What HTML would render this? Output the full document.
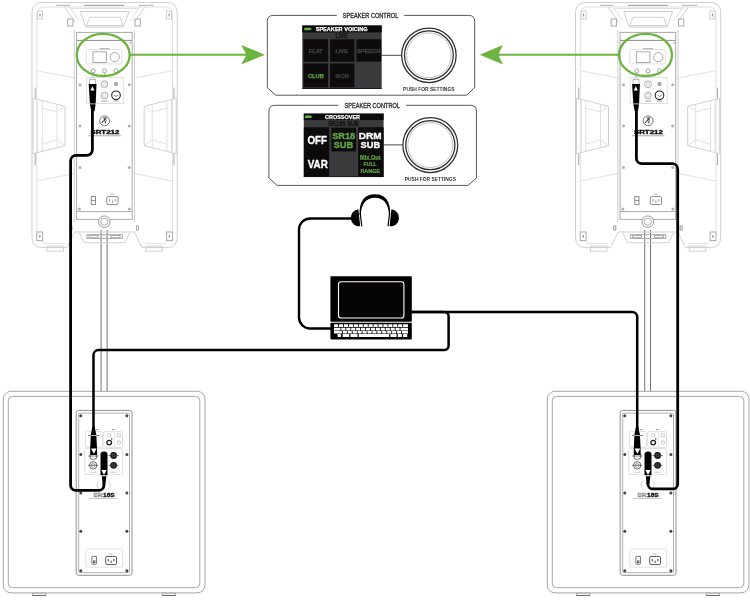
<!DOCTYPE html>
<html>
<head>
<meta charset="utf-8">
<title>Speaker setup diagram</title>
<style>
html,body{margin:0;padding:0;background:#fff;}
body{width:750px;height:600px;overflow:hidden;font-family:"Liberation Sans",sans-serif;}
svg{display:block;will-change:transform;}
text{font-family:"Liberation Sans",sans-serif;}
.o{fill:none;stroke:#e0e0e0;stroke-width:1;}
.o2{fill:none;stroke:#cfcfcf;stroke-width:1;}
.p{fill:none;stroke:#aaaaaa;stroke-width:1;}
.p2{fill:none;stroke:#8c8c8c;stroke-width:1;}
.cab{fill:none;stroke:#000;stroke-width:2.2;stroke-linecap:butt;stroke-linejoin:round;}
.cab3{fill:none;stroke:#000;stroke-width:2.8;stroke-linecap:butt;stroke-linejoin:round;}
.g{fill:none;stroke:#6cb33f;}
</style>
</head>
<body>
<svg width="750" height="600" viewBox="0 0 750 600">
<defs>
<!-- ============ TOP SPEAKER (left-speaker coordinates) ============ -->
<g id="spk">
  <!-- outer cabinet -->
  <path class="o2" d="M42,2.5 H167 Q177.2,2.5 177.2,13 V237 Q177.2,247.6 167,247.6 H142 L134.5,232 H74.5 L67,247.6 H42 Q32,247.6 32,237 V13 Q32,2.5 42,2.5 Z"/>
  <path class="o" d="M44,7 H165 Q172.5,7 172.5,15 V232 M166.5,240.6 L165,243.6 H144.7"/>
  <path class="o" d="M64.5,243.6 H44.2 L42.6,240.6 M36.8,232 V15 Q36.8,7 44,7"/>
  <!-- top handle -->
  <path class="o2" d="M64.3,7 L75,22 M145,7 L134.3,22"/>
  <path class="o" d="M69,6 L79,21 M140.3,6 L130.3,21"/>
  <path class="o2" d="M80.3,11.5 L85.7,27 H123.7 L129,11.5 Z"/>
  <path class="o2" d="M89.7,17.3 H120.3 L123,25.5 H86.3 Z"/>
  <path d="M56.3,5.3 H69.7 M139,5.3 H153.7" stroke="#a8a8a8" stroke-width="0.9" fill="none"/>
  <path d="M84.3,5.3 H124.3" stroke="#8a8a8a" stroke-width="0.9" fill="none"/>
  <path class="o" d="M70,8.5 H139"/>
  <!-- corner blocks top -->
  <rect class="o2" x="37.5" y="11" width="5" height="8"/>
  <rect class="o2" x="166.5" y="11" width="5" height="8"/>
  <rect x="39.4" y="13.5" width="1.2" height="3" fill="#999"/>
  <rect x="168.4" y="13.5" width="1.2" height="3" fill="#999"/>
  <rect class="p" x="67.7" y="19" width="5.3" height="7"/>
  <rect class="p" x="135" y="19" width="5.3" height="7"/>
  <!-- molded side lines -->
  <path class="o" d="M36.8,70.8 L75.5,78 M172.4,70.8 L133.7,78"/>
  <path class="o" d="M36.8,181 L75.5,173.3 M172.4,181 L133.7,173.3"/>
  <!-- side handles -->
  <path class="o2" d="M33,98.3 L65,106.3 V145.7 L33,153.7 Z"/>
  <path class="o" d="M37.7,99.5 V152.5 M42.3,100.6 V151.4 M57,104.3 V147.7"/>
  <path class="o" d="M42.3,108.3 L57,111.7 M57,139.7 L42.3,144.3 M57,111.7 L65,106.3 M57,139.7 L65,145.7"/>
  <path d="M35.2,87.5 V98.5 M35.2,153.7 V165" stroke="#a0a0a0" stroke-width="0.9" fill="none"/>
  <path class="o2" d="M176.2,98.3 L144.2,106.3 V145.7 L176.2,153.7 Z"/>
  <path class="o" d="M171.5,99.5 V152.5 M166.9,100.6 V151.4 M152.2,104.3 V147.7"/>
  <path class="o" d="M166.9,108.3 L152.2,111.7 M152.2,139.7 L166.9,144.3 M152.2,111.7 L144.2,106.3 M152.2,139.7 L144.2,145.7"/>
  <path d="M174.0,87.5 V98.5 M174.0,153.7 V165" stroke="#a0a0a0" stroke-width="0.9" fill="none"/>
  <!-- bottom -->
  <rect class="o2" x="46.9" y="246.2" width="16.5" height="5" fill="#fff"/>
  <rect class="o2" x="145.8" y="246.2" width="16.5" height="5" fill="#fff"/>
  <rect class="p" x="36.8" y="232" width="5.8" height="8.6" stroke="#bdbdbd"/><rect x="39.2" y="235" width="1.3" height="2.8" fill="#999"/>
  <rect class="p" x="166.6" y="232" width="5.8" height="8.6" stroke="#bdbdbd"/><rect x="168.7" y="235" width="1.3" height="2.8" fill="#999"/>
  <path class="o2" d="M79.4,233 L84.2,242.7 H125 L129.8,233"/>
  <rect class="p" x="86.9" y="234.7" width="35.4" height="3.8"/>
  <rect class="p" x="89" y="235.5" width="9" height="2.2"/>
  <rect class="p" x="111" y="235.5" width="9" height="2.2"/>
  <rect x="70" y="226" width="2" height="4" fill="none" stroke="#aaa" stroke-width="0.7"/><rect x="136.4" y="226" width="2" height="4" fill="none" stroke="#aaa" stroke-width="0.7"/>
  <!-- rear panel -->
  <rect class="p" x="76.6" y="32.4" width="55.6" height="187"/>
  <path d="M76.6,40.4 H132.2" stroke="#808080" stroke-width="0.9" fill="none"/><path class="p" d="M76.6,211.6 H132.2"/>
  <path class="o2" d="M74.3,30 V222 M134.5,30 V222"/>
  <!-- control area inside ellipse -->
  <rect class="o" x="86.3" y="49.5" width="35.5" height="14.4" rx="1.5"/>
  <rect class="p" x="92.9" y="51.8" width="13.5" height="10.7" stroke="#b8b8b8"/>
  <circle class="p" cx="114.8" cy="57.2" r="4.6" stroke="#a4a4a4"/>
  <rect x="99.5" y="48.3" width="10" height="0.9" fill="#a0a0a0"/>
  <!-- 3 knobs -->
  <g fill="#fff" stroke="#9a9a9a" stroke-width="0.9">
  <circle cx="93.3" cy="70.8" r="2"/><circle cx="104.5" cy="70.8" r="2"/><circle cx="116" cy="70.8" r="2"/>
  </g>
  <path d="M93.3,72.8 V75 M104.5,72.8 V75 M116,72.8 V74.5" stroke="#b0b0b0" stroke-width="0.8"/>
  <!-- connector box -->
  <rect class="o" x="86.7" y="77.5" width="37" height="26" stroke="#e6e6e6"/>
  <circle class="p" cx="104.5" cy="84.2" r="3.4"/>
  <circle class="p" cx="104.5" cy="95.5" r="3.4"/>
  <circle class="o2" cx="104.5" cy="84.2" r="1.6"/>
  <circle class="o2" cx="104.5" cy="95.5" r="1.6"/>
  <rect x="114.2" y="82.2" width="3.6" height="3.6" fill="#a0a0a0"/>
  <circle cx="116" cy="95.3" r="4.3" fill="none" stroke="#222" stroke-width="1.1"/>
  <path d="M113.8,95 Q116,98 118.2,95" fill="none" stroke="#555" stroke-width="0.7"/>
  <rect x="101.5" y="100.6" width="6" height="0.9" fill="#999"/>
  <rect x="113.5" y="100.6" width="5" height="0.9" fill="#999"/>
  <!-- screws -->
  <g fill="#b0b0b0">
    <circle cx="80" cy="84.7" r="1.5"/><circle cx="129.2" cy="84.7" r="1.5"/>
    <circle cx="80" cy="126" r="1.5"/><circle cx="129.2" cy="126" r="1.5"/>
    <circle cx="80" cy="167.6" r="1.5"/><circle cx="129.2" cy="167.6" r="1.5"/>
    <circle cx="79.4" cy="209" r="1.5"/><circle cx="129.4" cy="209" r="1.5"/>
    <circle cx="130.5" cy="43" r="0.9"/>
  </g>
  <!-- logo -->
  <circle cx="104.6" cy="120.8" r="4.9" fill="#fff" stroke="#555" stroke-width="0.8"/>
  <path d="M103.2,118 l2.2,0.4 l1.4,-0.6 M104.6,118.6 l-0.4,2.2 l1.6,1 l-0.6,1.8 M104.2,120.8 l-1.8,0.6 l-0.4,1.6 M104.6,119.4 l2,0.8 M105,117.2 l0.6,0.8" fill="none" stroke="#222" stroke-width="0.9"/>
  <text x="104.85" y="133.5" font-size="5.4" font-weight="bold" text-anchor="middle" textLength="28.9" lengthAdjust="spacingAndGlyphs" fill="#0a0a0a" stroke="#0a0a0a" stroke-width="0.35">SRT212</text>
  <rect x="88.5" y="135.4" width="32.5" height="0.8" fill="#9a9a9a"/>
  <!-- power -->
  <rect class="p2" x="91.3" y="196.6" width="4.2" height="8"/>
  <path class="p2" d="M91.3,200.6 H95.5"/>
  <rect class="p2" x="106.8" y="196.6" width="11.2" height="8" rx="1"/>
  <path class="p2" d="M109.5,199.2 V201.5 M115.3,199.2 V201.5 M112.4,200.5 V202.8"/>
  <rect x="110" y="193.6" width="4.5" height="0.8" fill="#bbb"/>
  <!-- pole socket -->
  <circle cx="104.3" cy="221.7" r="5.8" fill="#fff" stroke="#999" stroke-width="1"/>
  <circle cx="104.3" cy="221.7" r="3.6" fill="none" stroke="#aaa" stroke-width="1"/>
</g>

<!-- ============ SUBWOOFER (left-sub coordinates) ============ -->
<g id="sub">
  <rect x="3.3" y="391.3" width="201.7" height="201.6" rx="7.8" fill="#fff" stroke="#9c9c9c" stroke-width="0.9"/>
  <rect x="8.3" y="396.4" width="191.5" height="191.3" rx="4" fill="none" stroke="#9c9c9c" stroke-width="0.9"/>
  <rect x="32.6" y="593.2" width="13.3" height="2.2" fill="#fff" stroke="#999" stroke-width="0.8"/><path d="M32.6,595.4 H45.9" stroke="#555" stroke-width="0.8"/>
  <rect x="162.2" y="593.2" width="13.2" height="2.2" fill="#fff" stroke="#999" stroke-width="0.8"/><path d="M162.2,595.4 H175.4" stroke="#555" stroke-width="0.8"/>
  <rect x="70" y="226" width="2" height="4" fill="none" stroke="#aaa" stroke-width="0.7"/><rect x="136.4" y="226" width="2" height="4" fill="none" stroke="#aaa" stroke-width="0.7"/>
  <!-- rear panel -->
  <rect x="76.2" y="410.4" width="55.8" height="164.9" rx="2.4" fill="none" stroke="#909090" stroke-width="1"/>
  <rect x="78.7" y="413.1" width="50.8" height="159.6" rx="1" fill="none" stroke="#a8a8a8" stroke-width="0.9"/>
  <g fill="#444" id="subscrews">
    <circle cx="80.8" cy="415.8" r="1.5"/><circle cx="126.9" cy="415.8" r="1.5"/>
    <circle cx="80.8" cy="454.5" r="1.5"/><circle cx="126.9" cy="454.5" r="1.5"/>
    <circle cx="80.8" cy="493" r="1.5"/><circle cx="126.9" cy="493" r="1.5"/>
    <circle cx="80.8" cy="531.2" r="1.5"/><circle cx="126.9" cy="531.2" r="1.5"/>
    <circle cx="80.8" cy="570.8" r="1.5"/><circle cx="126.9" cy="570.8" r="1.5"/>
  </g>
  <!-- connector boxes -->
  <rect class="o" x="85.4" y="431.6" width="17.2" height="15.8" rx="1"/><rect x="96.3" y="429.3" width="2.2" height="0.8" fill="#666"/><rect x="112.3" y="429.3" width="2.2" height="0.8" fill="#666"/>
  <rect class="o" x="103.8" y="431.6" width="18.7" height="15.8" rx="1"/>
  <path class="o" d="M114.2,431.6 V447.4"/>
  <rect class="o" x="84.8" y="448.4" width="37.8" height="26.2" rx="1"/>
  <!-- small knob -->
  <circle cx="109.2" cy="442.6" r="2.3" fill="#fff" stroke="#1e1e1e" stroke-width="1.3"/>
  <circle cx="111.7" cy="438.9" r="0.7" fill="#222"/>
  <circle class="o2" cx="109" cy="435.2" r="1.6"/>
  <rect class="o2" x="117.4" y="433.6" width="2.8" height="3.2"/>
  <rect class="o2" x="117.4" y="441" width="2.8" height="3.2"/>
  <!-- xlr in (outlined) -->
  <circle cx="93.4" cy="456" r="3.6" fill="#fff" stroke="#555" stroke-width="0.9"/>
  <circle cx="93.2" cy="465.3" r="3.7" fill="#fff" stroke="#555" stroke-width="0.9"/>
  <circle cx="93.2" cy="465.3" r="1.8" fill="none" stroke="#777" stroke-width="0.7"/>
  <path d="M88.4,456 H98.4 M88.2,465.3 H98.2" stroke="#444" stroke-width="0.7"/>
  <!-- xlr out (dark) -->
  <circle cx="113.6" cy="455.5" r="3.4" fill="#1a1a1a"/>
  <circle cx="113.6" cy="465.3" r="3.4" fill="#1a1a1a"/>
  <circle cx="113.6" cy="455.5" r="1.5" fill="none" stroke="#666" stroke-width="0.6"/>
  <circle cx="113.6" cy="465.3" r="1.5" fill="none" stroke="#666" stroke-width="0.6"/>
  <path d="M108.6,455.5 H118.6 M108.6,465.3 H118.6" stroke="#333" stroke-width="0.7"/>
  <rect x="90.5" y="471.8" width="6" height="0.8" fill="#bbb"/>
  <rect x="110.5" y="471.8" width="6" height="0.8" fill="#bbb"/>
  <!-- thermal circle -->
  <path d="M99.5,481 A4.5,4.5 0 0 0 99.5,489 M108,481 A4.5,4.5 0 0 1 108,489" fill="none" stroke="#ccc" stroke-width="0.8"/>
  <!-- logo -->
  <text x="93.6" y="496.8" font-size="5.2" font-weight="bold" textLength="9" lengthAdjust="spacingAndGlyphs" fill="#fff" stroke="#777" stroke-width="0.45">SR</text>
  <text x="103.1" y="496.8" font-size="5.2" font-weight="bold" textLength="11.6" lengthAdjust="spacingAndGlyphs" fill="#111" stroke="#111" stroke-width="0.3">18S</text>
  <rect x="88.7" y="498.2" width="29" height="0.7" fill="#b0b0b0"/>
  <!-- power -->
  <rect class="o" x="85.8" y="549" width="36.8" height="18.2" rx="1.5" stroke="#e2e2e2"/>
  <rect x="91.8" y="556.4" width="4.8" height="7.8" rx="0.6" fill="none" stroke="#666" stroke-width="0.9"/>
  <rect x="93" y="560.4" width="2.4" height="2.8" fill="#666"/>
  <rect x="105.7" y="556.4" width="10.8" height="8.2" rx="1.2" fill="none" stroke="#555" stroke-width="1"/>
  <path d="M108.3,559 V561.4 M113.9,559 V561.4 M111.1,560.6 V563" stroke="#444" stroke-width="1" fill="none"/>
  <rect x="108" y="553.6" width="4.5" height="0.7" fill="#bbb"/>
</g>
</defs>

<!-- poles -->
<path d="M101.1,230 V392 M107.1,230 V392" stroke="#505050" stroke-width="0.8" fill="none"/>
<path d="M644.7,230 V392 M650.5,230 V392" stroke="#505050" stroke-width="0.8" fill="none"/>

<use href="#spk" x="0" y="0"/>
<use href="#spk" x="543.5" y="0"/>
<use href="#sub" x="0" y="0"/>
<use href="#sub" x="544" y="0"/>

<!-- ============ GREEN CALLOUTS ============ -->
<ellipse class="g" cx="103.2" cy="54.9" rx="26.5" ry="21.1" stroke-width="2.3"/>
<path class="g" d="M129.6,54.8 H247" stroke-width="1.9"/>
<path d="M265,54.8 L241.2,45 L246.4,54.8 L241.2,64.6 Z" fill="#6cb33f"/>
<ellipse class="g" cx="645.5" cy="54.9" rx="26.5" ry="21.1" stroke-width="2.3"/>
<path class="g" d="M619,54.8 H498" stroke-width="1.9"/>
<path d="M479.8,54.8 L503,45 L498.2,54.8 L503,64.6 Z" fill="#6cb33f"/>

<!-- ============ CONTROL PANEL 1 ============ -->
<g>
  <path d="M336.8,15.4 H273.3 Q267.3,15.4 267.3,21.3 V87.5 L275.6,95.2 H466.6 L474.7,87.5 V21.3 Q474.7,15.4 468.7,15.4 H404.2" fill="none" stroke="#454545" stroke-width="0.9"/>
  <text x="370.6" y="17.8" font-size="6.3" text-anchor="middle" textLength="55.5" lengthAdjust="spacingAndGlyphs" fill="#2c2c2c" stroke="#2c2c2c" stroke-width="0.3">SPEAKER CONTROL</text>
  <!-- screen -->
  <rect x="302.3" y="25.5" width="79.4" height="63.4" fill="#3b3b3d"/>
  <rect x="302.3" y="25.5" width="79.4" height="6.9" fill="#0b0b0b"/>
  <rect x="302.3" y="88" width="79.4" height="1" fill="#1c1c1c"/>
  <rect x="303.5" y="39.3" width="24.6" height="22.4" fill="#0d0b0b"/>
  <rect x="330.1" y="39.3" width="24.3" height="22.4" fill="#0d0b0b"/>
  <rect x="356.4" y="39.3" width="24.8" height="22.4" fill="#0d0b0b"/>
  <rect x="303.5" y="63.5" width="24.6" height="23.8" fill="#0d0b0b"/>
  <rect x="330.1" y="63.5" width="24.3" height="23.8" fill="#0d0b0b"/>
  <rect x="304.2" y="27.8" width="6.6" height="2.4" rx="0.6" fill="#62b54a"/>
  <rect x="310.8" y="28.4" width="0.8" height="1.2" fill="#62b54a"/>
  <text x="341.7" y="31.1" font-size="6" font-weight="bold" text-anchor="middle" textLength="52" lengthAdjust="spacingAndGlyphs" fill="#fff" stroke="#fff" stroke-width="0.25">SPEAKER VOICING</text>
  <text x="341.7" y="37.6" font-size="6.5" font-weight="bold" text-anchor="middle" textLength="12.2" lengthAdjust="spacingAndGlyphs" fill="#151515" stroke="#151515" stroke-width="0.3">LIVE</text>
  <text x="315.8" y="52.9" font-size="6.2" font-weight="bold" text-anchor="middle" textLength="14" lengthAdjust="spacingAndGlyphs" fill="#474747" stroke="#474747" stroke-width="0.25">FLAT</text>
  <text x="341.7" y="52.9" font-size="6.2" font-weight="bold" text-anchor="middle" textLength="12.2" lengthAdjust="spacingAndGlyphs" fill="#474747" stroke="#474747" stroke-width="0.25">LIVE</text>
  <text x="368.6" y="52.9" font-size="6.2" font-weight="bold" text-anchor="middle" textLength="23.6" lengthAdjust="spacingAndGlyphs" fill="#474747" stroke="#474747" stroke-width="0.25">SPEECH</text>
  <text x="315.9" y="77.6" font-size="6.2" font-weight="bold" text-anchor="middle" textLength="16" lengthAdjust="spacingAndGlyphs" fill="#5fa844" stroke="#5fa844" stroke-width="0.25">CLUB</text>
  <text x="342.3" y="77.6" font-size="6.2" font-weight="bold" text-anchor="middle" textLength="13.4" lengthAdjust="spacingAndGlyphs" fill="#3e3e3e" stroke="#3e3e3e" stroke-width="0.25">MON</text>
  <!-- knob -->
  <path d="M381.7,55.3 H402" stroke="#333" stroke-width="0.9"/>
  <circle cx="428.9" cy="55.3" r="27.2" fill="#fff" stroke="#2e2e2e" stroke-width="1.25"/>
  <circle cx="428.9" cy="55.3" r="24.4" fill="none" stroke="#2e2e2e" stroke-width="1.25"/>
  <circle cx="428.9" cy="55.3" r="22.3" fill="none" stroke="#999" stroke-width="0.6"/>
  <text x="428.8" y="91.3" font-size="5.9" font-weight="bold" text-anchor="middle" textLength="51.4" lengthAdjust="spacingAndGlyphs" fill="#333">PUSH FOR SETTINGS</text>
</g>

<!-- ============ CONTROL PANEL 2 ============ -->
<g>
  <path d="M338.4,105.3 H274.9 Q268.9,105.3 268.9,111.1 V178 L277.2,185.4 H468.2 L476.4,178 V111.1 Q476.4,105.3 470.4,105.3 H406" fill="none" stroke="#454545" stroke-width="0.9"/>
  <text x="372.2" y="107.8" font-size="6.3" text-anchor="middle" textLength="55.5" lengthAdjust="spacingAndGlyphs" fill="#2c2c2c" stroke="#2c2c2c" stroke-width="0.3">SPEAKER CONTROL</text>
  <!-- screen -->
  <rect x="303.8" y="113.6" width="79.8" height="63.4" fill="#3b3b3d"/>
  <rect x="303.8" y="113.6" width="79.8" height="6.5" fill="#0b0b0b"/>
  <rect x="303.8" y="176.2" width="79.8" height="0.9" fill="#1c1c1c"/>
  <rect x="303.8" y="127.2" width="25.4" height="49.4" fill="#0d0b0b"/>
  <rect x="331.4" y="127.6" width="24.6" height="23.8" fill="#0d0b0b"/>
  <rect x="358.2" y="127.2" width="25.4" height="49.4" fill="#0d0b0b"/>
  <rect x="305" y="115.6" width="6.4" height="2.3" rx="0.6" fill="#62b54a"/>
  <rect x="311.4" y="116.1" width="0.8" height="1.2" fill="#62b54a"/>
  <text x="342.5" y="118.9" font-size="6" font-weight="bold" text-anchor="middle" textLength="35" lengthAdjust="spacingAndGlyphs" fill="#fff" stroke="#fff" stroke-width="0.25">CROSSOVER</text>
  <text x="343.5" y="126.1" font-size="6.5" font-weight="bold" text-anchor="middle" textLength="30.6" lengthAdjust="spacingAndGlyphs" fill="#151515" stroke="#151515" stroke-width="0.3">SR18S SUB</text>
  <text x="317.2" y="143.8" font-size="10.9" font-weight="bold" text-anchor="middle" textLength="19.6" lengthAdjust="spacingAndGlyphs" fill="#fff" stroke="#fff" stroke-width="0.35">OFF</text>
  <text x="317.8" y="167.8" font-size="10.9" font-weight="bold" text-anchor="middle" textLength="20" lengthAdjust="spacingAndGlyphs" fill="#fff" stroke="#fff" stroke-width="0.35">VAR</text>
  <text x="343.7" y="139.1" font-size="9.8" font-weight="bold" text-anchor="middle" textLength="23" lengthAdjust="spacingAndGlyphs" fill="#5fa844" stroke="#5fa844" stroke-width="0.35">SR18</text>
  <text x="343.5" y="147.6" font-size="9.8" font-weight="bold" text-anchor="middle" textLength="19.8" lengthAdjust="spacingAndGlyphs" fill="#5fa844" stroke="#5fa844" stroke-width="0.35">SUB</text>
  <text x="370.2" y="139.1" font-size="9.8" font-weight="bold" text-anchor="middle" textLength="22.8" lengthAdjust="spacingAndGlyphs" fill="#fff" stroke="#fff" stroke-width="0.35">DRM</text>
  <text x="370.4" y="147.6" font-size="9.8" font-weight="bold" text-anchor="middle" textLength="19.6" lengthAdjust="spacingAndGlyphs" fill="#fff" stroke="#fff" stroke-width="0.35">SUB</text>
  <text x="370.3" y="158.5" font-size="5.7" font-weight="bold" text-anchor="middle" textLength="20.6" lengthAdjust="spacingAndGlyphs" fill="#5fa844" stroke="#5fa844" stroke-width="0.2">Mix Out</text>
  <rect x="360" y="159.2" width="20.6" height="0.6" fill="#5fa844"/>
  <text x="370.1" y="165.6" font-size="5.7" font-weight="bold" text-anchor="middle" textLength="13.4" lengthAdjust="spacingAndGlyphs" fill="#5fa844" stroke="#5fa844" stroke-width="0.2">FULL</text>
  <text x="370.3" y="172.8" font-size="5.7" font-weight="bold" text-anchor="middle" textLength="19.8" lengthAdjust="spacingAndGlyphs" fill="#5fa844" stroke="#5fa844" stroke-width="0.2">RANGE</text>
  <!-- knob -->
  <path d="M383.6,144.9 H403" stroke="#333" stroke-width="0.9"/>
  <circle cx="430.3" cy="145.1" r="27.4" fill="#fff" stroke="#2e2e2e" stroke-width="1.25"/>
  <circle cx="430.3" cy="145.1" r="24.6" fill="none" stroke="#2e2e2e" stroke-width="1.25"/>
  <circle cx="430.3" cy="145.1" r="22.5" fill="none" stroke="#999" stroke-width="0.6"/>
  <text x="430.4" y="181.1" font-size="5.9" font-weight="bold" text-anchor="middle" textLength="51.2" lengthAdjust="spacingAndGlyphs" fill="#333">PUSH FOR SETTINGS</text>
</g>

<!-- ============ HEADPHONES ============ -->
<g>
  <path d="M359.6,215 C359.2,201 364.6,194.3 374.9,194.3 C385.2,194.3 390.6,201 390.2,215 L389,215 C388.8,204 383.6,197.7 374.9,197.7 C366.2,197.7 361,204 360.8,215 Z" fill="#000"/>
  <path d="M360.2,213 L361.8,226.2 M389.6,213 L388,226.2" fill="none" stroke="#000" stroke-width="1.2"/>
  <path d="M358.4,209.3 A8.5,8.5 0 0 0 360.2,226.3 Z" fill="#000"/>
  <path d="M391.4,209.3 A8.5,8.5 0 0 1 389.6,226.3 Z" fill="#000"/>
</g>
<!-- headphone cable -->
<path class="cab" d="M352,218.5 H310 C304,218.5 299,223.5 299,229.5 V317.5 C299,323.5 304,328.5 310,328.5 H331" style="stroke-width:2.4"/>

<!-- ============ LAPTOP ============ -->
<g>
  <rect x="330.4" y="276.2" width="81.4" height="45.6" rx="0.8" fill="#000"/>
  <rect x="338.5" y="281.7" width="65.4" height="36.3" rx="2.6" fill="#050303" stroke="#fff" stroke-width="1.1"/>
  <rect x="330.4" y="322.7" width="81.4" height="16.7" rx="0.8" fill="#000"/>
  <g fill="#fff"><rect x="334.00" y="324.2" width="4.20" height="2.9" rx="0.3"/><rect x="339.00" y="324.2" width="4.13" height="2.9" rx="0.3"/><rect x="343.93" y="324.2" width="4.13" height="2.9" rx="0.3"/><rect x="348.86" y="324.2" width="4.13" height="2.9" rx="0.3"/><rect x="353.79" y="324.2" width="4.13" height="2.9" rx="0.3"/><rect x="358.72" y="324.2" width="4.13" height="2.9" rx="0.3"/><rect x="363.65" y="324.2" width="4.13" height="2.9" rx="0.3"/><rect x="368.58" y="324.2" width="4.13" height="2.9" rx="0.3"/><rect x="373.51" y="324.2" width="4.13" height="2.9" rx="0.3"/><rect x="378.44" y="324.2" width="4.13" height="2.9" rx="0.3"/><rect x="383.37" y="324.2" width="4.13" height="2.9" rx="0.3"/><rect x="388.30" y="324.2" width="4.13" height="2.9" rx="0.3"/><rect x="393.23" y="324.2" width="4.13" height="2.9" rx="0.3"/><rect x="398.16" y="324.2" width="4.13" height="2.9" rx="0.3"/><rect x="403.09" y="324.2" width="4.91" height="2.9" rx="0.3"/><rect x="334.00" y="327.7" width="6.50" height="2.8" rx="0.3"/><rect x="341.30" y="327.7" width="4.13" height="2.8" rx="0.3"/><rect x="346.23" y="327.7" width="4.13" height="2.8" rx="0.3"/><rect x="351.16" y="327.7" width="4.13" height="2.8" rx="0.3"/><rect x="356.09" y="327.7" width="4.13" height="2.8" rx="0.3"/><rect x="361.02" y="327.7" width="4.13" height="2.8" rx="0.3"/><rect x="365.95" y="327.7" width="4.13" height="2.8" rx="0.3"/><rect x="370.88" y="327.7" width="4.13" height="2.8" rx="0.3"/><rect x="375.81" y="327.7" width="4.13" height="2.8" rx="0.3"/><rect x="380.74" y="327.7" width="4.13" height="2.8" rx="0.3"/><rect x="385.67" y="327.7" width="4.13" height="2.8" rx="0.3"/><rect x="390.60" y="327.7" width="4.13" height="2.8" rx="0.3"/><rect x="395.53" y="327.7" width="4.13" height="2.8" rx="0.3"/><rect x="400.46" y="327.7" width="7.54" height="2.8" rx="0.3"/><rect x="334.00" y="331.0" width="8.00" height="2.5" rx="0.3"/><rect x="342.80" y="331.0" width="4.13" height="2.5" rx="0.3"/><rect x="347.73" y="331.0" width="4.13" height="2.5" rx="0.3"/><rect x="352.66" y="331.0" width="4.13" height="2.5" rx="0.3"/><rect x="357.59" y="331.0" width="4.13" height="2.5" rx="0.3"/><rect x="362.52" y="331.0" width="4.13" height="2.5" rx="0.3"/><rect x="367.45" y="331.0" width="4.13" height="2.5" rx="0.3"/><rect x="372.38" y="331.0" width="4.13" height="2.5" rx="0.3"/><rect x="377.31" y="331.0" width="4.13" height="2.5" rx="0.3"/><rect x="382.24" y="331.0" width="4.13" height="2.5" rx="0.3"/><rect x="387.17" y="331.0" width="4.13" height="2.5" rx="0.3"/><rect x="392.10" y="331.0" width="4.13" height="2.5" rx="0.3"/><rect x="397.03" y="331.0" width="4.13" height="2.5" rx="0.3"/><rect x="401.96" y="331.0" width="6.04" height="2.5" rx="0.3"/><rect x="337.6" y="334.1" width="3.4" height="2.9" rx="0.3"/><rect x="342.6" y="334.1" width="6.6" height="2.9" rx="0.3"/><rect x="350.4" y="334.1" width="7.2" height="2.9" rx="0.3"/><rect x="358.8" y="334.1" width="30.4" height="2.9" rx="0.3"/><rect x="390.4" y="334.1" width="6.2" height="2.9" rx="0.3"/><rect x="397.8" y="334.1" width="4" height="2.9" rx="0.3"/><rect x="403" y="334.1" width="4.2" height="2.9" rx="0.3"/></g>
</g>

<!-- ============ CABLES ============ -->
<!-- laptop to right sub -->
<path class="cab" d="M411.5,311.9 H632.2 C634.96,311.90 637.20,314.14 637.2,316.9 V432" style="stroke-width:2.5"/>
<!-- laptop to left sub -->
<path class="cab" d="M411.5,311.9 H444.1 C446.59,311.90 448.60,313.91 448.6,316.4 V345.6 C448.60,348.09 446.59,350.10 444.1,350.1 H98.5 C95.74,350.10 93.50,352.34 93.5,355.1 V432" style="stroke-width:2.5"/>
<!-- left speaker to left sub -->
<path class="cab3" d="M92.4,109 V149.8 C92.40,152.84 89.94,155.30 86.9,155.3 H76.1 C73.06,155.30 70.60,157.76 70.6,160.8 V485.3 C70.60,488.06 72.84,490.30 75.6,490.3 H98.9 C101.66,490.30 103.90,488.06 103.9,485.3 V483"/>
<!-- right speaker to right sub -->
<path class="cab3" d="M636.4,109 V158.2 C636.40,161.24 638.86,163.70 641.9,163.7 H672.2 C675.24,163.70 677.70,166.16 677.7,169.2 V483.9 C677.70,486.66 675.46,488.90 672.7,488.9 H652.9 C650.14,488.90 647.90,486.66 647.9,483.9 V482"/>

<!-- connectors: top speakers -->
<g id="conUp">
  <rect x="89.6" y="79.4" width="6" height="5" fill="#fff" stroke="#aaa" stroke-width="0.8"/>
  <path d="M91,79.4 L92.6,76 L94.2,79.4" fill="none" stroke="#bbb" stroke-width="0.7"/>
  <path d="M88.7,84 H96.5 L95.7,103.4 H89.9 Z" fill="#000"/>
  <path d="M90,104.3 H95.6 L94.6,111 H91.2 Z" fill="#000"/>
  <path d="M92.4,86.3 L94.5,90.5 H90.3 Z" fill="#fff"/>
</g>
<use href="#conUp" x="543.4" y="0"/>
<!-- connectors: subs (input, from laptop) -->
<g id="conIn">
  <path d="M92.3,427 H94.7 L96.3,434.6 L97,448 V455 H90.2 V448 L90.8,434.6 Z" fill="#000"/>
  <path d="M88.4,435.5 H99.1" stroke="#fff" stroke-width="0.7"/>
  <path d="M88.2,435.5 H90.6 M96.6,435.5 H99.2" stroke="#333" stroke-width="0.7"/>
  <path d="M91,448.5 H96.6 L93.8,453.8 Z" fill="#fff"/>
</g>
<use href="#conIn" x="543.6" y="0"/>
<!-- connectors: subs (thru, to top speaker) -->
<g id="conOut">
  <path d="M100.5,454.5 Q100.5,451.4 104,451.4 Q107.5,451.4 107.5,454.5 V475.2 H100.5 Z" fill="#000"/>
  <path d="M101.8,476.2 H106.4 L105.4,484 H102.6 Z" fill="#000"/>
  <path d="M101.4,470 H106.6 L104,475 Z" fill="#fff"/>
</g>
<use href="#conOut" x="544" y="0"/>

</svg>
</body>
</html>
